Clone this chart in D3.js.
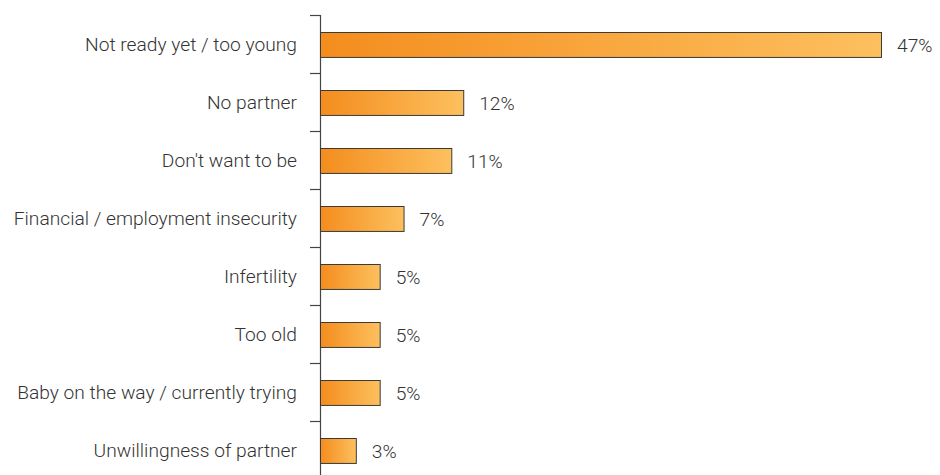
<!DOCTYPE html>
<html>
<head>
<meta charset="utf-8">
<script src="https://cdn.jsdelivr.net/npm/d3@7"></script>
<style>
  html, body { margin: 0; padding: 0; background: #fff; }
  svg text { font-family: Roboto, "Liberation Sans", Arial, sans-serif; font-weight: 300; fill: #333; }
</style>
</head>
<body>
<svg id="chart" width="940" height="475"></svg>
<script>
// Reasons given, with share of respondents (%)
const categories = [
  "Not ready yet / too young",
  "No partner",
  "Don't want to be",
  "Financial / employment insecurity",
  "Infertility",
  "Too old",
  "Baby on the way / currently trying",
  "Unwillingness of partner"
];
const values = [47, 12, 11, 7, 5, 5, 5, 3];
const valueLabels = ["47%", "12%", "11%", "7%", "5%", "5%", "5%", "3%"];

const svg = d3.select("#chart");
const x0 = 320, x1 = 881, yTop = 15, band = 58;

const x = d3.scaleLinear().domain([0, 47]).range([x0, x1]);
const y = d3.scaleBand().domain(categories)
  .range([yTop, yTop + band * categories.length])
  .paddingInner(0.57).paddingOuter(0.285);

// Bar fill: deep orange fading to light amber along each bar
const grad = svg.append("defs").append("linearGradient")
  .attr("id", "barFill").attr("x1", "0").attr("x2", "1").attr("y1", "0").attr("y2", "0");
grad.append("stop").attr("offset", "0%").attr("stop-color", "#f48d1e");
grad.append("stop").attr("offset", "100%").attr("stop-color", "#fdc05e");

// Category axis: vertical rule with ticks between the rows
const axisG = svg.append("g");
axisG.append("line")
  .attr("x1", x0 + 0.5).attr("x2", x0 + 0.5)
  .attr("y1", yTop).attr("y2", 475)
  .attr("stroke", "#444").attr("stroke-width", 1.2);
axisG.selectAll("line.tick")
  .data(categories)
  .join("line")
  .attr("class", "tick")
  .attr("x1", x0 - 10).attr("x2", x0 + 0.5)
  .attr("y1", (d, i) => yTop + band * i + 0.5)
  .attr("y2", (d, i) => yTop + band * i + 0.5)
  .attr("stroke", "#444").attr("stroke-width", 1.2);

// Category labels
svg.append("g").selectAll("text")
  .data(categories)
  .join("text")
  .attr("x", 297)
  .attr("y", d => y(d) + y.bandwidth() / 2)
  .attr("dy", "0.36em")
  .attr("text-anchor", "end")
  .attr("font-size", 19.2)
  .text(d => d);

// Bars
svg.append("g").selectAll("rect")
  .data(values)
  .join("rect")
  .attr("x", x(0) + 0.5)
  .attr("y", (d, i) => Math.round(y(categories[i])) + 0.5)
  .attr("width", d => x(d) - x(0))
  .attr("height", y.bandwidth())
  .attr("fill", "url(#barFill)")
  .attr("stroke", "#3a3a3a")
  .attr("stroke-width", 1);

// Value labels
svg.append("g").selectAll("text")
  .data(values)
  .join("text")
  .attr("x", d => x(d) + 16)
  .attr("y", (d, i) => y(categories[i]) + y.bandwidth() / 2 + 1)
  .attr("dy", "0.36em")
  .attr("font-size", 19.2)
  .text((d, i) => valueLabels[i]);
</script>
</body>
</html>
